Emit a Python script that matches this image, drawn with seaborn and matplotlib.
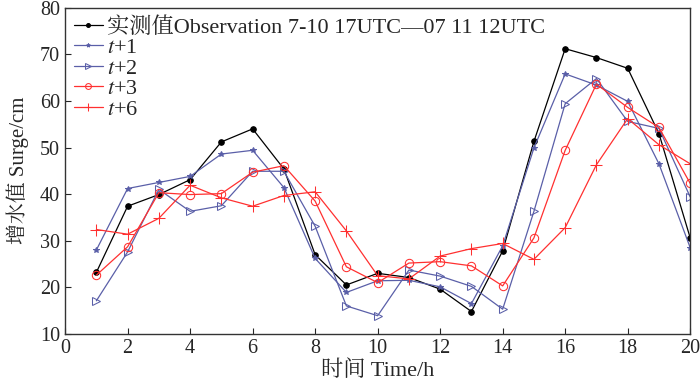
import matplotlib
matplotlib.use('Agg')
import matplotlib.pyplot as plt
import pandas as pd
import seaborn as sns

# Data
hours = list(range(1, 21))
observation = [23.2, 37.4, 39.9, 43.1, 51.2, 54.0, 45.4, 27.0, 20.5, 23.0,
               22.1, 19.6, 14.8, 27.8, 51.3, 71.2, 69.3, 67.0, 53.0, 30.6]
t1 = [28.0, 41.2, 42.5, 43.8, 48.6, 49.4, 41.4, 26.2, 18.9, 21.4,
      21.5, 20.1, 16.5, 28.9, 49.9, 65.8, 63.4, 59.9, 46.5, 28.5]
t2 = [17.1, 27.6, 41.0, 36.3, 37.5, 44.9, 44.9, 33.1, 16.0, 13.9,
      23.7, 22.4, 20.2, 15.3, 36.3, 59.4, 64.8, 55.6, 54.1, 39.4]
t3 = [22.6, 28.7, 40.3, 39.9, 40.1, 44.7, 46.1, 38.5, 24.4, 21.0,
      25.2, 25.5, 24.6, 20.3, 30.6, 49.4, 63.6, 58.6, 54.3, 42.3]
t6 = [32.4, 31.4, 34.8, 41.9, 39.2, 37.4, 39.7, 40.5, 32.1, 22.5,
      21.8, 26.7, 28.3, 29.4, 26.0, 32.8, 46.3, 56.2, 50.6, 46.5]

labels = ['实测值Observation 7-10 17UTC—07 11 12UTC',
          r'$\mathit{t}$+1', r'$\mathit{t}$+2', r'$\mathit{t}$+3', r'$\mathit{t}$+6']

sns.set_style('ticks')
plt.rcParams['font.family'] = ['Liberation Serif', 'Noto Serif CJK SC', 'Noto Sans CJK SC', 'DejaVu Sans']
plt.rcParams['mathtext.fontset'] = 'stix'
plt.rcParams['xtick.direction'] = 'in'
plt.rcParams['ytick.direction'] = 'in'

fig, ax = plt.subplots(figsize=(7, 3.86), dpi=100)
fig.subplots_adjust(left=0.093, right=0.986, top=0.98, bottom=0.135)

blue = '#5a5fa8'
red = '#ff3030'

# Estilos de cada serie
series = [
    (observation, 'black', 'o', dict(markersize=4)),
    (t1, blue, '*', dict(markersize=4)),
    (t2, blue, '>', dict(markersize=6, markerfacecolor='none')),
    (t3, red, 'o', dict(markersize=6, markerfacecolor='none')),
    (t6, red, '+', dict(markersize=8)),
]

for (vals, color, marker, kw), lab in zip(series, labels):
    df = pd.DataFrame({'hour': hours, 'value': vals})
    sns.lineplot(data=df, x='hour', y='value', ax=ax, color=color, marker=marker,
                 markeredgecolor=color, linewidth=0.9, label=lab, **kw)

ax.set_xlim(0, 20)
ax.set_ylim(10, 80)
ax.set_xticks(range(0, 21, 2))
ax.set_yticks(range(10, 81, 10))
ax.tick_params(labelsize=14.5, length=4, top=False, right=False)
for s in ax.spines.values():
    s.set_linewidth(1.0)
    s.set_color('#333333')

ax.set_xlabel('时间 Time/h', fontsize=16, labelpad=2)
ax.set_ylabel('增水值 Surge/cm', fontsize=15, labelpad=8)

leg = ax.legend(loc='upper left', frameon=False, fontsize=16, handlelength=1.3,
                handletextpad=0.2, labelspacing=0.0, borderaxespad=0.2,
                borderpad=0.2, markerscale=0.7)

plt.savefig('out.png', dpi=100)
